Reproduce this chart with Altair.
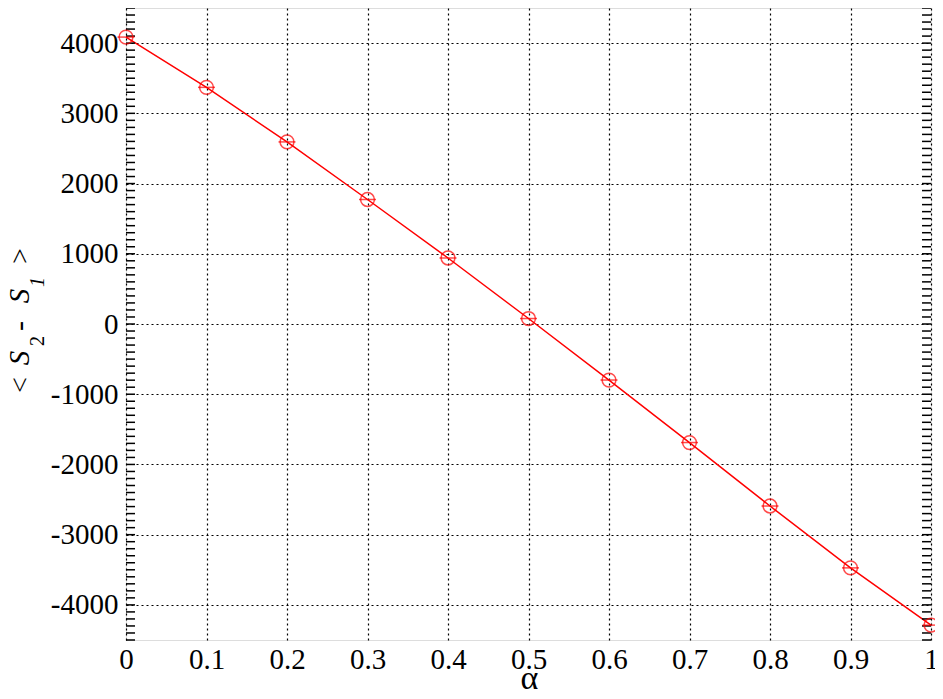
import altair as alt
import pandas as pd

# data
alpha = [0.0, 0.1, 0.2, 0.3, 0.4, 0.5, 0.6, 0.7, 0.8, 0.9, 1.0]
ds = [4086, 3370, 2593, 1773, 940, 78, -798, -1688, -2592, -3473, -4288]

x_ticks = [0, 0.1, 0.2, 0.3, 0.4, 0.5, 0.6, 0.7, 0.8, 0.9, 1]
y_ticks = [-4000, -3000, -2000, -1000, 0, 1000, 2000, 3000, 4000]
minor_y = list(range(-4500, 4501, 100))

W, H = 805, 632
FONT = "Liberation Serif, Times New Roman, Times, DejaVu Serif, serif"
RED = "#ff0000"

df = pd.DataFrame({"alpha": alpha, "ds": ds})
xs = alt.Scale(domain=[0, 1], nice=False, zero=False)
ys = alt.Scale(domain=[-4500, 4500], nice=False, zero=False)

x_enc = alt.X("alpha:Q", scale=xs, axis=alt.Axis(
    values=x_ticks, title=None, domain=False, ticks=False, grid=True,
    gridColor="black", gridDash=[2, 3], gridWidth=1.2, gridOpacity=1,
    labelFont=FONT, labelFontSize=29, labelColor="black", labelPadding=5,
    labelExpr="'' + datum.value", labelFlush=False))
y_enc = alt.Y("ds:Q", scale=ys, axis=alt.Axis(
    values=y_ticks, title=None, domain=False, ticks=False, grid=True,
    gridColor="black", gridDash=[2, 3], gridWidth=1.2, gridOpacity=1,
    labelFont=FONT, labelFontSize=29, labelColor="black", labelPadding=8,
    labelExpr="'' + datum.value"))

base = alt.Chart(df)
line = base.mark_line(color=RED, strokeWidth=1.5).encode(x=x_enc, y=y_enc)
pts = base.mark_point(shape="circle", filled=False, color=RED, size=190,
                      strokeWidth=1.5).encode(x="alpha:Q", y="ds:Q")
caps = base.mark_point(shape="M-1,0L1,0", filled=False, color=RED, size=289,
                       strokeWidth=1.5).encode(x="alpha:Q", y="ds:Q")

tick_df = pd.DataFrame({"v": minor_y})
lticks = alt.Chart(tick_df).mark_rule(color="black", strokeWidth=1.5).encode(
    y=alt.Y("v:Q", scale=ys), x=alt.value(0), x2=alt.value(9))
rticks = alt.Chart(tick_df).mark_rule(color="black", strokeWidth=1.5).encode(
    y=alt.Y("v:Q", scale=ys), x=alt.value(W - 9), x2=alt.value(W))

one = pd.DataFrame({"k": [0]})
def txt(s, x, y, size, italic=False, angle=270):
    kw = dict(text=s, font=FONT, fontSize=size, color="black",
              align="center", baseline="alphabetic", angle=angle)
    if italic:
        kw["fontStyle"] = "italic"
    return alt.Chart(one).mark_text(**kw).encode(x=alt.value(x), y=alt.value(y))

# page coords -> chart coords
def px(x): return x - 126
def py(y): return y - 8

titles = [
    txt("α", px(529.5), py(689), 34, angle=0),
    txt("<", px(29), py(385), 28),
    txt("S", px(29), py(358), 29, italic=True),
    txt("2", px(44), py(341), 20),
    txt("-", px(29), py(326), 30),
    txt("S", px(29), py(296), 29, italic=True),
    txt("1", px(44), py(282), 20, italic=True),
    txt(">", px(29), py(256), 28),
]

chart = alt.layer(line, lticks, rticks, pts, caps, *titles).properties(
    width=W, height=H,
    autosize=alt.AutoSizeParams(type="none"),
    padding={"left": 118, "top": 0, "right": 4, "bottom": 50},
).configure_view(stroke="black", strokeWidth=2).configure(background="white")

chart.save("out.html", embed_options={"renderer": "svg", "actions": False})
